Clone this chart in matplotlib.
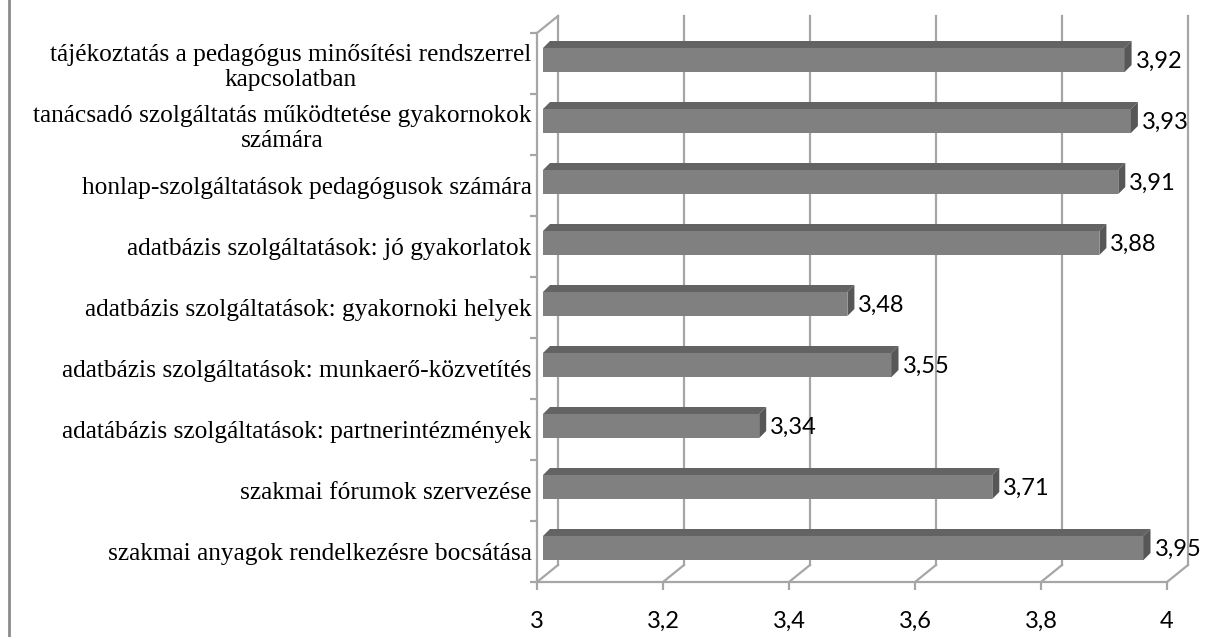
import matplotlib.pyplot as plt
from matplotlib.patches import Polygon
from matplotlib.lines import Line2D

categories = [
    "tájékoztatás a pedagógus minősítési rendszerrel\nkapcsolatban",
    "tanácsadó szolgáltatás működtetése gyakornokok\nszámára",
    "honlap-szolgáltatások pedagógusok számára",
    "adatbázis szolgáltatások: jó gyakorlatok",
    "adatbázis szolgáltatások: gyakornoki helyek",
    "adatbázis szolgáltatások: munkaerő-közvetítés",
    "adatábázis szolgáltatások: partnerintézmények",
    "szakmai fórumok szervezése",
    "szakmai anyagok rendelkezésre bocsátása",
]
values = [3.92, 3.93, 3.91, 3.88, 3.48, 3.55, 3.34, 3.71, 3.95]
xticks = [3, 3.2, 3.4, 3.6, 3.8, 4]
xtick_labels = ["3", "3,2", "3,4", "3,6", "3,8", "4"]

W, H = 1208, 637
fig = plt.figure(figsize=(W / 100, H / 100), dpi=100)
# front plane of the 3d box, in pixels
x0, x1, y0, y1 = 537, 1167, 33, 582
ax = fig.add_axes([x0 / W, (H - y1) / H, (x1 - x0) / W, (y1 - y0) / H])
n = len(categories)
ax.set_xlim(3, 4)
ax.set_ylim(0, n)
for s in ax.spines.values():
    s.set_visible(False)

px = 1 / (x1 - x0)          # data units per pixel, x
py = n / (y1 - y0)          # data units per pixel, y
DX, DY = 21 * px, 17 * py   # depth of the box

gcol = "#a6a6a6"
lw = 1.6
# back wall gridlines + floor diagonals
for t in xticks:
    ax.add_line(Line2D([t + DX, t + DX], [DY, n + DY], color=gcol, lw=lw, clip_on=False, zorder=1))
    ax.add_line(Line2D([t, t + DX], [0, DY], color=gcol, lw=lw, clip_on=False, zorder=1))
# front axes
ax.add_line(Line2D([3, 3], [0, n], color=gcol, lw=lw, clip_on=False, zorder=1))
ax.add_line(Line2D([3, 3 + DX], [n, n + DY], color=gcol, lw=lw, clip_on=False, zorder=1))
ax.add_line(Line2D([3, 4], [0, 0], color=gcol, lw=lw, clip_on=False, zorder=1))

# bars with a bit of 3d
front_c, top_c, side_c = "#808080", "#636363", "#575757"
d = 7
for i, v in enumerate(values):
    yc = n - 0.5 - i
    top = yc + 15.5 * py
    bot = yc - 8.5 * py
    left = 3 + 6 * px
    right = v + 8 * px
    ax.add_patch(Polygon([(left, bot), (right, bot), (right, top), (left, top)],
                         closed=True, fc=front_c, ec="none", zorder=3, clip_on=False))
    ax.add_patch(Polygon([(left, top), (left + d * px, top + d * py), (right + d * px, top + d * py), (right, top)],
                         closed=True, fc=top_c, ec="none", zorder=3, clip_on=False))
    ax.add_patch(Polygon([(right, bot), (right + d * px, bot + d * py), (right + d * px, top + d * py), (right, top)],
                         closed=True, fc=side_c, ec="none", zorder=3, clip_on=False))
    ax.text(v + 19 * px, yc + 2.5 * py, f"{v:.2f}".replace(".", ","), family="Lato",
            fontsize=17, va="center", ha="left", zorder=4)

# category labels and ticks
ax.set_yticks([n - 0.5 - i for i in range(n)])
ax.set_yticklabels(categories, family="Liberation Serif", fontsize=18.3)
for t in ax.get_yticklabels():
    t.set_multialignment("center")
    t.set_linespacing(1.15)
ax.set_yticks(range(n + 1), minor=True)
ax.tick_params(axis="y", which="major", length=0, pad=4)
ax.tick_params(axis="y", which="minor", length=5, width=lw, color=gcol)

ax.set_xticks(xticks)
ax.set_xticklabels(xtick_labels, family="Lato", fontsize=17)
ax.tick_params(axis="x", length=6, width=lw, color=gcol, pad=15)

# chart frame edge on the left
fig.add_artist(Line2D([9 / W, 9 / W], [0, 1], color="#8c8c8c", lw=2))

fig.savefig("out.png", dpi=100)
